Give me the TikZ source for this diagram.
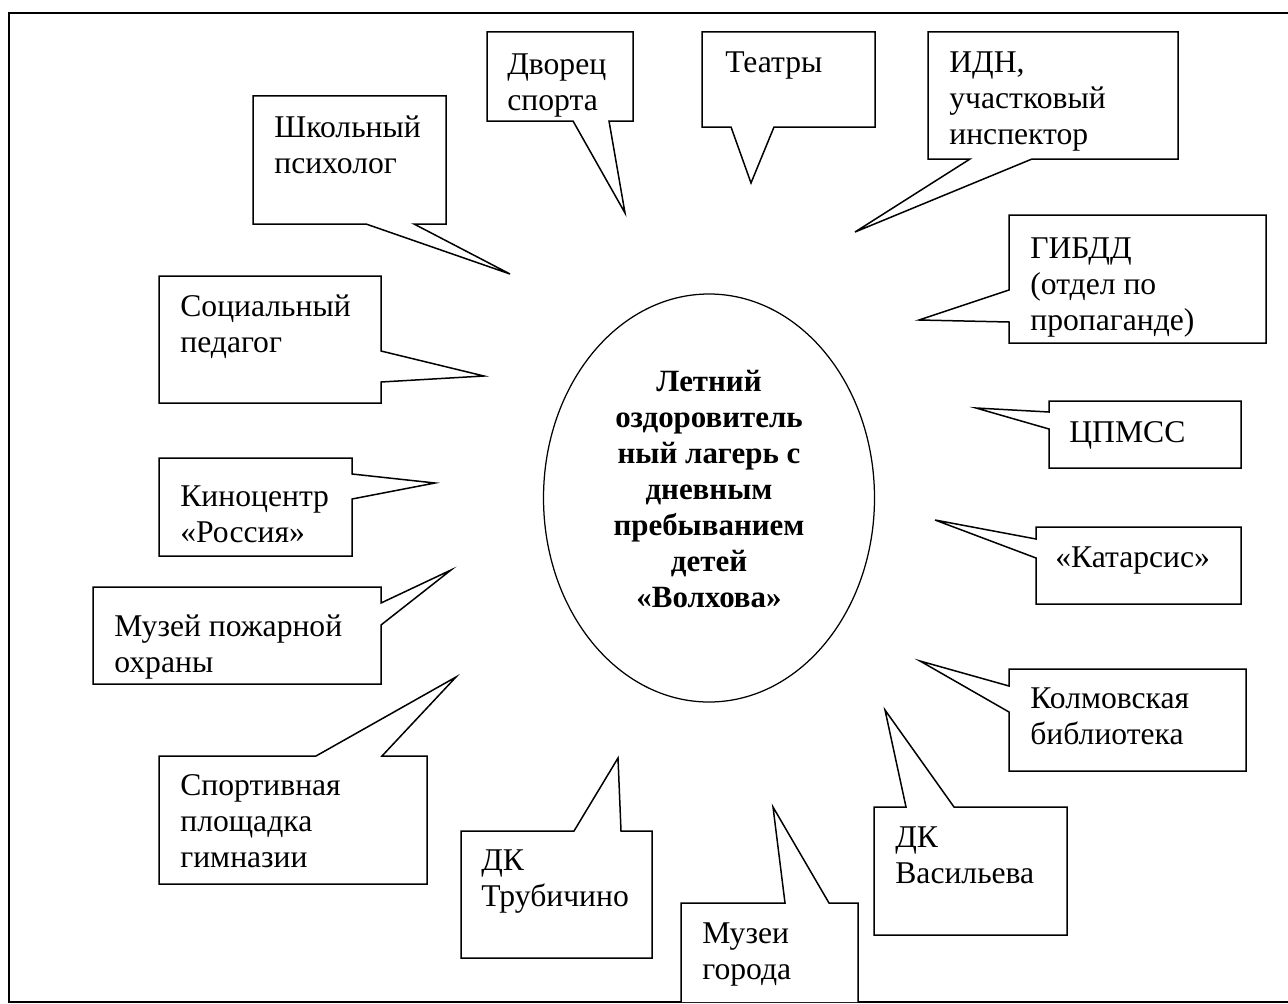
\documentclass[tikz,border=0pt]{standalone}
\usepackage{fontspec}
\setmainfont{Liberation Serif}
\usepackage{tikz}
\usetikzlibrary{shapes.geometric}

\begin{document}
\begin{tikzpicture}[x=0.2mm, y=-0.2mm]
	\tikzstyle{txt} = [anchor=north west, inner sep=0, align=left, font=\fontsize{18}{20.6}\selectfont]
	\tikzstyle{call} = [line width=0.3mm, line join=miter, fill=white]
	\useasboundingbox (0,0) rectangle (1288,1003);
	\draw[line width=0.5mm] (9,13) rectangle (1330,1002);
	
	\node[ellipse, draw, line width=0.25mm, minimum width=66.2mm, minimum height=81.6mm, inner sep=0] (lager) at (709,498) {};
	\node[align=center, inner sep=0, font=\bfseries\fontsize{17.6}{20.5}\selectfont] (lagertxt) at (709,489) {Летний\\оздоровитель\\ный лагерь с\\дневным\\пребыванием\\детей\\«Волхова»};
	
	\draw[call] (487,32) -- (633,32) -- (633,121) -- (609,121) -- (625,213) -- (573,121) -- (487,121) -- cycle;
	\draw[call] (702,32) -- (875,32) -- (875,127) -- (774,127) -- (751,183) -- (731,127) -- (702,127) -- cycle;
	\draw[call] (928,32) -- (1178,32) -- (1178,159) -- (1032,159) -- (855,232) -- (970,159) -- (928,159) -- cycle;
	\draw[call] (253,96) -- (446,96) -- (446,224) -- (414,224) -- (510,274) -- (366,224) -- (253,224) -- cycle;
	\draw[call] (1009,215) -- (1266,215) -- (1266,343) -- (1009,343) -- (1009,322) -- (919,320) -- (1009,290) -- cycle;
	\draw[call] (159,276) -- (381,276) -- (381,351) -- (484,376) -- (381,382) -- (381,403) -- (159,403) -- cycle;
	\draw[call] (1049,401) -- (1241,401) -- (1241,468) -- (1049,468) -- (1049,429) -- (976,408) -- (1049,412) -- cycle;
	\draw[call] (159,458) -- (352,458) -- (352,474) -- (435,483) -- (352,499) -- (352,556) -- (159,556) -- cycle;
	\draw[call] (1036,527) -- (1241,527) -- (1241,604) -- (1036,604) -- (1036,558) -- (935,520) -- (1036,539) -- cycle;
	\draw[call] (93,587) -- (381,587) -- (381,603) -- (451,570) -- (381,625) -- (381,684) -- (93,684) -- cycle;
	\draw[call] (1009,669) -- (1246,669) -- (1246,771) -- (1009,771) -- (1009,712) -- (920,661) -- (1009,686) -- cycle;
	\draw[call] (159,756) -- (316,756) -- (456,677) -- (382,756) -- (427,756) -- (427,884) -- (159,884) -- cycle;
	\draw[call] (461,831) -- (574,831) -- (618,758) -- (621,831) -- (652,831) -- (652,958) -- (461,958) -- cycle;
	\draw[call] (874,807) -- (906,807) -- (885,710) -- (954,807) -- (1067,807) -- (1067,935) -- (874,935) -- cycle;
	\draw[call] (681,1002) -- (681,903) -- (785,903) -- (773,807) -- (829,903) -- (858,903) -- (858,1002);
	
	\node[txt] (dvorec) at (507,53) {Дворец\\спорта};
	\node[txt] (teatry) at (725,51) {Театры};
	\node[txt] (idn) at (949,51) {ИДН,\\участковый\\инспектор};
	\node[txt] (shkpsy) at (274,115) {Школьный\\психолог};
	\node[txt] (gibdd) at (1030,237) {ГИБДД\\(отдел по\\пропаганде)};
	\node[txt] (socped) at (180,294) {Социальный\\педагог};
	\node[txt] (cpmss) at (1069,421) {ЦПМСС};
	\node[txt] (kino) at (180,485) {Киноцентр\\«Россия»};
	\node[txt] (katars) at (1055,546) {«Катарсис»};
	\node[txt] (muzpozh) at (114,614) {Музей пожарной\\охраны};
	\node[txt] (kolmov) at (1030,687) {Колмовская\\библиотека};
	\node[txt] (sport) at (180,774) {Спортивная\\площадка\\гимназии};
	\node[txt] (dktrub) at (481,849) {ДК\\Трубичино};
	\node[txt] (dkvas) at (895,826) {ДК\\Васильева};
	\node[txt] (muzgor) at (702,922) {Музеи\\города};
\end{tikzpicture}
\end{document}
